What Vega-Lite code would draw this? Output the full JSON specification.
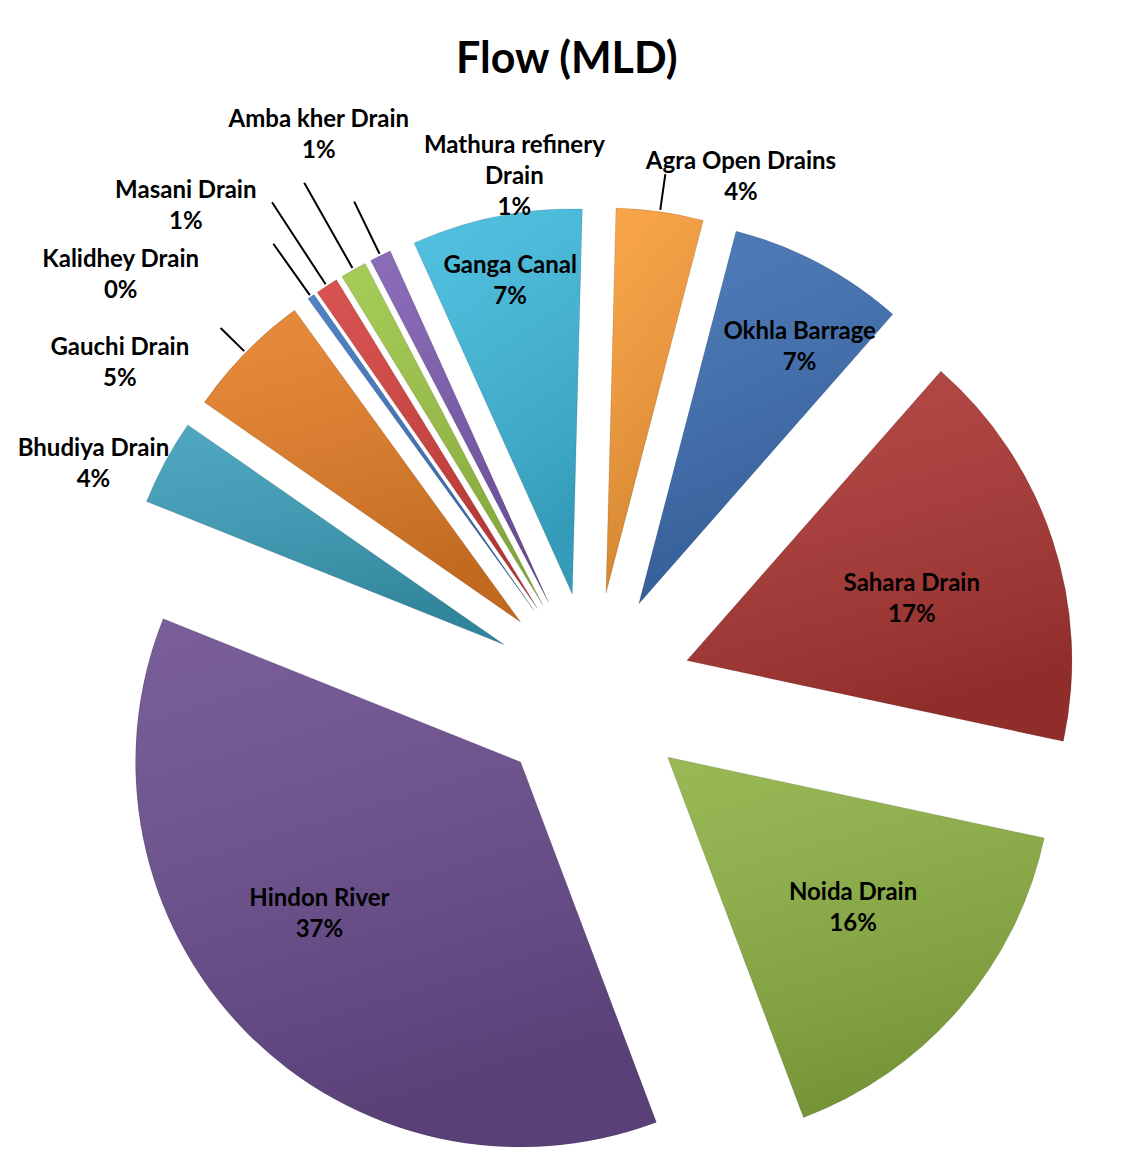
{
  "$schema": "https://vega.github.io/schema/vega-lite/v6.json",
  "autosize": {"type": "none"},
  "width": 1068,
  "height": 960,
  "padding": {"left": 58, "top": 212, "right": 0, "bottom": 0},
  "background": "white",
  "config": {"view": {"stroke": null}},
  "title": {"text": "Flow (MLD)", "font": "Lato", "fontSize": 43, "fontWeight": "bold", "color": "#000000", "anchor": "middle", "frame": "bounds", "offset": 26, "dx": -5},
  "data": {"values": [
    {"order": 1, "name": "Agra Open Drains", "flow": 3.65, "label": "Agra Open Drains\n4%"},
    {"order": 2, "name": "Okhla Barrage", "flow": 7.4, "label": "Okhla Barrage\n7%"},
    {"order": 3, "name": "Sahara Drain", "flow": 16.9, "label": "Sahara Drain\n17%"},
    {"order": 4, "name": "Noida Drain", "flow": 15.9, "label": "Noida Drain\n16%"},
    {"order": 5, "name": "Hindon River", "flow": 36.8, "label": "Hindon River\n37%"},
    {"order": 6, "name": "Bhudiya Drain", "flow": 3.6, "label": "Bhudiya Drain\n4%"},
    {"order": 7, "name": "Gauchi Drain", "flow": 5.35, "label": "Gauchi Drain\n5%"},
    {"order": 8, "name": "Kalidhey Drain", "flow": 0.3, "label": "Kalidhey Drain\n0%"},
    {"order": 9, "name": "Masani Drain", "flow": 0.95, "label": "Masani Drain\n1%"},
    {"order": 10, "name": "Amba kher Drain", "flow": 1.1, "label": "Amba kher Drain\n1%"},
    {"order": 11, "name": "Mathura refinery Drain", "flow": 0.9, "label": "Mathura refinery\nDrain\n1%"},
    {"order": 12, "name": "Ganga Canal", "flow": 7.15, "label": "Ganga Canal\n7%"}
  ]},
  "encoding": {
    "theta": {"field": "flow", "type": "quantitative", "stack": true, "scale": {"range": [0.026, 6.3092]}},
    "order": {"field": "order", "type": "quantitative"}
  },
  "layer": [
    {
      "mark": {
        "type": "arc",
        "outerRadius": 385,
        "xOffset": {"expr": "100*sin(scale('theta', 0.5*datum.flow_start + 0.5*datum.flow_end))"},
        "yOffset": {"expr": "-100*cos(scale('theta', 0.5*datum.flow_start + 0.5*datum.flow_end))"}
      },
      "encoding": {
        "color": {
          "field": "name", "type": "nominal", "legend": null,
          "scale": {
            "domain": ["Agra Open Drains", "Okhla Barrage", "Sahara Drain", "Noida Drain", "Hindon River", "Bhudiya Drain", "Gauchi Drain", "Kalidhey Drain", "Masani Drain", "Amba kher Drain", "Mathura refinery Drain", "Ganga Canal"],
            "range": ["#F99C36", "#3B6DB1", "#AC3633", "#8CB142", "#6A4C8E", "#3A9EB9", "#E57D25", "#3D74BD", "#D4403D", "#9CC644", "#7D5BB0", "#3EBADD"]
          }
        }
      }
    },
    {
      "mark": {
        "type": "arc",
        "outerRadius": 385,
        "xOffset": {"expr": "100*sin(scale('theta', 0.5*datum.flow_start + 0.5*datum.flow_end))"},
        "yOffset": {"expr": "-100*cos(scale('theta', 0.5*datum.flow_start + 0.5*datum.flow_end))"},
        "fill": {"gradient": "linear", "x1": 0, "y1": 0, "x2": 0.3, "y2": 1, "stops": [{"offset": 0, "color": "rgba(255,255,255,0.10)"}, {"offset": 1, "color": "rgba(0,0,0,0.16)"}]},
        "stroke": "rgba(0,0,0,0.12)",
        "strokeWidth": 1
      }
    },
    {
      "mark": {
        "type": "arc",
        "innerRadius": 487,
        "outerRadius": {"expr": "({'Agra Open Drains': 523, 'Mathura refinery Drain': 545, 'Amba kher Drain': 585, 'Masani Drain': 585, 'Kalidhey Drain': 550, 'Gauchi Drain': 520})[datum.name] || 487"},
        "padAngle": 3,
        "fillOpacity": 0,
        "stroke": "#000000",
        "strokeWidth": 2
      }
    },
    {
      "mark": {
        "type": "text",
        "font": "Lato",
        "fontSize": 24,
        "fontWeight": "bold",
        "color": "#000000",
        "align": "center",
        "baseline": "middle",
        "lineBreak": "\n",
        "lineHeight": 31,
        "dy": {"expr": "-15.5 * (length(split(datum.label, '\\n')) - 1)"},
        "radius": {"expr": "({'Ganga Canal': 419, 'Okhla Barrage': 402, 'Sahara Drain': 333, 'Noida Drain': 339, 'Hindon River': 352, 'Agra Open Drains': 536, 'Mathura refinery Drain': 521, 'Amba kher Drain': 620, 'Masani Drain': 633, 'Kalidhey Drain': 629, 'Gauchi Drain': 575, 'Bhudiya Drain': 548})[datum.name]"},
        "thetaOffset": {"expr": "({'Ganga Canal': 0.002, 'Okhla Barrage': 0.055, 'Sahara Drain': 0.037, 'Noida Drain': -0.019, 'Hindon River': 0.09, 'Agra Open Drains': 0.141, 'Mathura refinery Drain': 0.302, 'Amba kher Drain': 0.058, 'Masani Drain': -0.118, 'Kalidhey Drain': -0.229, 'Gauchi Drain': -0.168, 'Bhudiya Drain': -0.066})[datum.name]"}
      },
      "encoding": {"text": {"field": "label", "type": "nominal"}}
    }
  ]
}
